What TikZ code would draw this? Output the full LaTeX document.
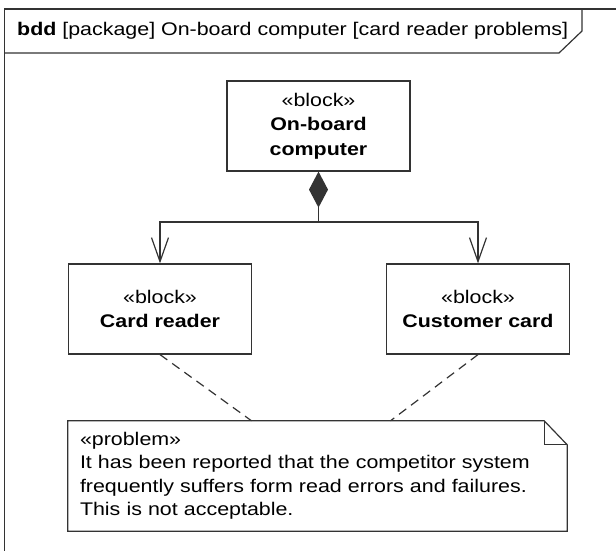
\documentclass[tikz,border=0pt]{standalone}
\usepackage{fontspec}
\setmainfont{Liberation Sans}[FakeStretch=1.17]
\usetikzlibrary{positioning, arrows.meta}

\begin{document}
\begin{tikzpicture}[
    x=1pt, y=-1pt,
    font=\fontsize{18.3pt}{24.5pt}\selectfont,
    line/.style={draw=black!80, line width=1.2pt},
    block/.style={
        rectangle,
        line,
        align=center,
        inner sep=0pt,
        minimum width=183pt,
        minimum height=90pt
    },
    notebox/.style={
        rectangle,
        align=left,
        inner xsep=12pt,
        inner ysep=0pt,
        text width=475pt,
        minimum height=110pt,
        font=\fontsize{18.3pt}{23.5pt}\selectfont
    },
    comp/.style={line, {Diamond[length=36pt,width=19pt]}-},
    nav/.style={line, -{Straight Barb[length=24pt,width=17pt,line width=1.2pt]}},
    anchorline/.style={line, dashed, dash pattern=on 9pt off 6pt}
]
\useasboundingbox (0,0) rectangle (616,551);

\draw[line] (4.5,551) -- (4.5,9) -- (616,9);
\draw[line] (4.5,53) -- (559,53) -- (582,31) -- (582,9);
\node[anchor=base west, inner sep=0pt] (title) at (17,36)
    {\textbf{bdd} [package] On-board computer [card reader problems]};

\node[block] (obc) at (318.5,126) {«block»\\\textbf{On-board}\\\textbf{computer}};
\node[block] (reader) at (160,309) {«block»\\\textbf{Card reader}};
\node[block] (card) at (478,309) {«block»\\\textbf{Customer card}};
\coordinate (hub) at (318.5,222);

\draw[comp] (obc.south) -- (hub);
\draw[nav] (hub) -| (reader.north);
\draw[nav] (hub) -| (card.north);

\node[notebox] (note) at (317.5,476)
    {«problem»\\It has been reported that the competitor system\\frequently suffers form read errors and failures.\\This is not acceptable.};
\draw[line] (note.north west) -- ([xshift=-23pt]note.north east)
    -- ([yshift=-24pt]note.north east) -- (note.south east)
    -- (note.south west) -- cycle;
\draw[line] ([xshift=-23pt]note.north east) |- ([yshift=-24pt]note.north east);

\draw[anchorline] (reader.south) -- ([xshift=-66pt]note.north);
\draw[anchorline] (card.south) -- ([xshift=73pt]note.north);

\end{tikzpicture}
\end{document}
